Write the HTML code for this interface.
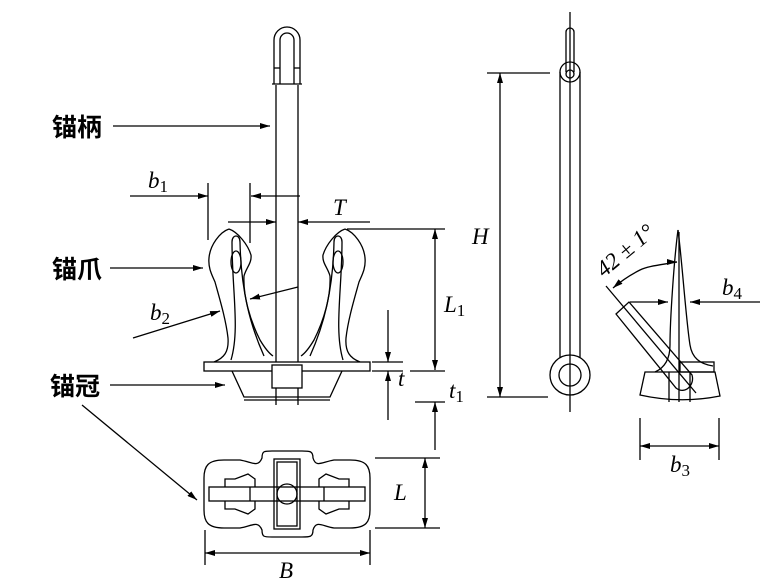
<!DOCTYPE html>
<html><head><style>
html,body{margin:0;padding:0;background:#fff;width:769px;height:583px;overflow:hidden}
svg{display:block}
text{font-family:"Liberation Serif",serif;font-style:italic;fill:#000}
.c{font-family:"Liberation Sans","Noto Sans CJK SC",sans-serif;font-style:normal;font-weight:bold;font-size:25px}
</style></head><body>
<svg width="769" height="583" viewBox="0 0 769 583" xmlns="http://www.w3.org/2000/svg">
<defs>
<marker id="a" viewBox="0 0 10 6" refX="10" refY="3" markerWidth="10" markerHeight="6" orient="auto" markerUnits="userSpaceOnUse">
<path d="M0,0 L10,3 L0,6 z" fill="#000"/></marker>
<g id="fl">
<path d="M229,229 C220,232 210,245 209,258 C208,268 212,275 215,282 C220,300 226,320 228,338 C229,352 224,358 214,362"/>
<path d="M229,229 C238,232 248,245 251,255 C252,263 246,268 244,276 C243,296 250,320 260,340 C266,350 270,354 273,356"/>
<path d="M231,360 C240,330 232,290 232,242 C232,234 240,234 240,242 C241,290 250,325 264,356"/>
<ellipse cx="236" cy="262" rx="5" ry="11"/>
</g>
</defs>
<g fill="none" stroke="#000" stroke-width="1.3">
<line x1="113" y1="126" x2="270" y2="126" marker-end="url(#a)"/>
<line x1="110" y1="268" x2="203" y2="268" marker-end="url(#a)"/>
<line x1="110" y1="385" x2="225" y2="385" marker-end="url(#a)"/>
<line x1="82" y1="405" x2="197" y2="500" marker-end="url(#a)"/>
<!-- shackle -->
<path d="M274,84 V40 a13,13 0 0 1 26,0 V84"/>
<path d="M280,84 V40 a7,7 0 0 1 14,0 V84"/>
<line x1="272" y1="84" x2="302" y2="84"/>
<line x1="274" y1="68" x2="280" y2="68"/><line x1="294" y1="68" x2="300" y2="68"/>
<line x1="276" y1="85" x2="276" y2="405"/>
<line x1="298" y1="85" x2="298" y2="405"/>
<use href="#fl"/>
<use href="#fl" transform="translate(574,0) scale(-1,1)"/>
<rect x="204" y="362" width="166" height="9" fill="#fff"/>
<path d="M232,371 L244,397 H330 L342,371"/>
<rect x="272" y="365" width="30" height="23" fill="#fff"/>
<line x1="244" y1="400" x2="330" y2="400"/>
<!-- b1 -->
<line x1="130" y1="196" x2="208" y2="196" marker-end="url(#a)"/>
<line x1="300" y1="196" x2="251" y2="196" marker-end="url(#a)"/>
<line x1="208" y1="183" x2="208" y2="240"/>
<line x1="250" y1="183" x2="250" y2="243"/>
<line x1="228" y1="222" x2="276" y2="222" marker-end="url(#a)"/>
<line x1="370" y1="222" x2="298" y2="222" marker-end="url(#a)"/>
<line x1="133" y1="338" x2="220" y2="311" marker-end="url(#a)"/>
<line x1="298" y1="287" x2="250" y2="299" marker-end="url(#a)"/>
<line x1="347" y1="229" x2="445" y2="229"/>
<line x1="435" y1="300" x2="435" y2="229" marker-end="url(#a)"/>
<line x1="435" y1="300" x2="435" y2="370" marker-end="url(#a)"/>
<line x1="410" y1="371" x2="445" y2="371"/>
<line x1="415" y1="402" x2="445" y2="402"/>
<line x1="435" y1="450" x2="435" y2="402" marker-end="url(#a)"/>
<line x1="372" y1="362" x2="403" y2="362"/>
<line x1="372" y1="371" x2="403" y2="371"/>
<line x1="388" y1="310" x2="388" y2="362" marker-end="url(#a)"/>
<line x1="388" y1="420" x2="388" y2="371" marker-end="url(#a)"/>
<!-- top view -->
<path d="M262,458 C262,451 264,451 272,451 H302 C310,451 313,451 313,458 C316,468 322,462 334,460 H350 C366,460 370,466 370,478 V510 C370,522 366,528 350,528 H334 C322,526 316,520 313,530 C313,537 310,537 302,537 H272 C264,537 262,537 262,530 C258,520 252,526 240,528 H224 C208,528 204,522 204,510 V478 C204,466 208,460 224,460 H240 C252,462 258,468 262,458 Z"/>
<rect x="274" y="459" width="26" height="70"/>
<rect x="277" y="462" width="20" height="64"/>
<rect x="209" y="487" width="156" height="14"/>
<line x1="250" y1="487" x2="250" y2="501"/><line x1="324" y1="487" x2="324" y2="501"/>
<circle cx="287" cy="494" r="10"/>
<path d="M225,487 V479 H235 L248,474 L255,479 V487"/>
<path d="M225,501 V509 H235 L248,514 L255,509 V501"/>
<path d="M349,487 V479 H339 L326,474 L319,479 V487"/>
<path d="M349,501 V509 H339 L326,514 L319,509 V501"/>
<line x1="375" y1="458" x2="440" y2="458"/>
<line x1="375" y1="528" x2="440" y2="528"/>
<line x1="425" y1="490" x2="425" y2="458" marker-end="url(#a)"/>
<line x1="425" y1="490" x2="425" y2="528" marker-end="url(#a)"/>
<line x1="205" y1="530" x2="205" y2="565"/>
<line x1="370" y1="530" x2="370" y2="565"/>
<line x1="287" y1="553" x2="205" y2="553" marker-end="url(#a)"/>
<line x1="287" y1="553" x2="370" y2="553" marker-end="url(#a)"/>
<!-- side view -->
<line x1="570" y1="12" x2="570" y2="412"/>
<path d="M566,72 V32 a4,4 0 0 1 8,0 V72"/>
<circle cx="570" cy="72" r="10"/>
<circle cx="570" cy="74" r="4"/>
<line x1="560" y1="72" x2="560" y2="358"/>
<line x1="580" y1="72" x2="580" y2="358"/>
<circle cx="570" cy="375" r="20"/>
<circle cx="570" cy="375" r="11"/>
<line x1="487" y1="73" x2="550" y2="73"/>
<line x1="487" y1="397" x2="548" y2="397"/>
<line x1="500" y1="230" x2="500" y2="73" marker-end="url(#a)"/>
<line x1="500" y1="230" x2="500" y2="397" marker-end="url(#a)"/>
<!-- right view -->
<path d="M678,230 C674,260 670,320 670,345 C670,360 664,368 655,372"/>
<path d="M678,230 C682,260 686,320 690,345 C692,358 700,364 713,366"/>
<line x1="679" y1="232" x2="679" y2="402"/>
<path d="M645,372 L715,372 L720,396 Q680,404 640,395 Z"/>
<rect x="680" y="362" width="34" height="10"/>
<line x1="669" y1="372" x2="669" y2="402"/><line x1="690" y1="372" x2="690" y2="402"/>
<path d="M616,314 L629,302 L692,375 C695,385 685,395 676,388 Z"/>
<line x1="606" y1="286" x2="696" y2="393"/>
<path d="M677,262 C660,265 648,266 640,270 C628,276 620,282 613,288" marker-end="url(#a)"/>
<line x1="668" y1="262" x2="677" y2="262" marker-end="url(#a)"/>
<line x1="630" y1="302" x2="668" y2="302" marker-end="url(#a)"/>
<line x1="760" y1="302" x2="690" y2="302" marker-end="url(#a)"/>
<line x1="640" y1="418" x2="640" y2="460"/>
<line x1="719" y1="418" x2="719" y2="460"/>
<line x1="680" y1="446" x2="640" y2="446" marker-end="url(#a)"/>
<line x1="680" y1="446" x2="719" y2="446" marker-end="url(#a)"/>
</g>
<text class="c" x="52" y="136">锚柄</text>
<text class="c" x="52" y="278">锚爪</text>
<text class="c" x="50" y="395">锚冠</text>
<g font-size="23">
<text x="148" y="188">b<tspan font-size="17" font-style="normal" dy="4">1</tspan></text>
<text x="150" y="320">b<tspan font-size="17" font-style="normal" dy="4">2</tspan></text>
<text x="333" y="215">T</text>
<text x="472" y="244">H</text>
<text x="444" y="312">L<tspan font-size="17" font-style="normal" dy="4">1</tspan></text>
<text x="398" y="386">t</text>
<text x="449" y="398">t<tspan font-size="17" font-style="normal" dy="4">1</tspan></text>
<text x="394" y="500">L</text>
<text x="279" y="578">B</text>
<text x="722" y="295">b<tspan font-size="17" font-style="normal" dy="4">4</tspan></text>
<text x="670" y="472">b<tspan font-size="17" font-style="normal" dy="4">3</tspan></text>
<text font-style="normal" transform="translate(604,278) rotate(-40)">42 ± 1°</text>
</g>
</svg>
</body></html>
